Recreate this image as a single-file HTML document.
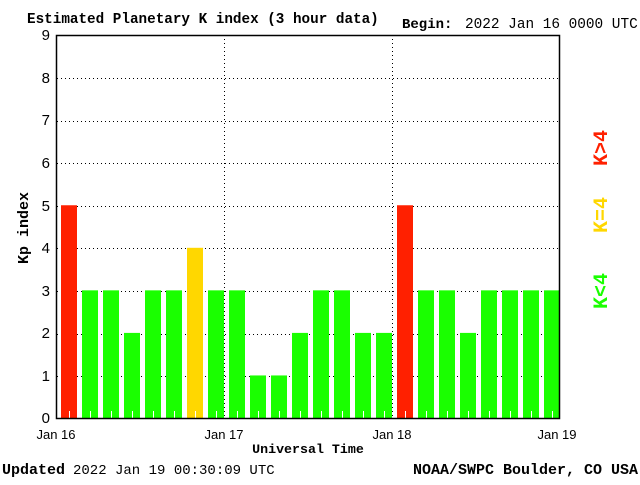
<!DOCTYPE html>
<html><head><style>
body{margin:0;background:#fff;width:640px;height:480px;overflow:hidden}
svg text{font-family:"Liberation Sans",sans-serif}
svg text.s{font-family:"Liberation Mono",monospace;font-weight:bold}
svg text.m{font-family:"Liberation Mono",monospace}
</style></head><body>
<svg width="640" height="480" xmlns="http://www.w3.org/2000/svg">
<text x="27" y="23" class="s" font-size="14.3">Estimated Planetary K index (3 hour data)</text>
<text x="402" y="28" class="s" font-size="14">Begin:</text>
<text x="465" y="28" class="m" font-size="14.4">2022 Jan 16 0000 UTC</text>
<g stroke="#000" stroke-dasharray="1,3" stroke-width="1">
<line x1="57" x2="560" y1="78.5" y2="78.5"/><line x1="57" x2="560" y1="121.5" y2="121.5"/>
<line x1="57" x2="560" y1="163.5" y2="163.5"/><line x1="57" x2="560" y1="206.5" y2="206.5"/>
<line x1="57" x2="560" y1="248.5" y2="248.5"/><line x1="57" x2="560" y1="291.5" y2="291.5"/>
<line x1="57" x2="560" y1="334.5" y2="334.5"/><line x1="57" x2="560" y1="376.5" y2="376.5"/>
<line x1="224.5" x2="224.5" y1="35" y2="418"/><line x1="392.5" x2="392.5" y1="35" y2="418"/>
</g>
<g id="bars"></g>
<rect x="56.5" y="35.5" width="503" height="383" fill="none" stroke="#000" stroke-width="1.5"/>
<g font-size="15" text-anchor="end">
<text x="50" y="423">0</text><text x="50" y="381">1</text><text x="50" y="338">2</text>
<text x="50" y="296">3</text><text x="50" y="253">4</text><text x="50" y="211">5</text>
<text x="50" y="168">6</text><text x="50" y="125">7</text><text x="50" y="83">8</text><text x="50" y="40">9</text>
</g>
<g font-size="13" text-anchor="middle">
<text x="56" y="439">Jan 16</text><text x="224" y="439">Jan 17</text>
<text x="392" y="439">Jan 18</text><text x="557" y="439">Jan 19</text>
</g>
<text x="308" y="453" class="s" font-size="13.3" text-anchor="middle">Universal Time</text>
<text transform="translate(28,228) rotate(-90)" class="s" font-size="15" text-anchor="middle">Kp index</text>
<text transform="translate(607,148) rotate(-90)" class="s" font-size="20" text-anchor="middle" fill="#ff2000">K&gt;4</text>
<text transform="translate(607,215) rotate(-90)" class="s" font-size="20" text-anchor="middle" fill="#ffd700">K=4</text>
<text transform="translate(607,291) rotate(-90)" class="s" font-size="20" text-anchor="middle" fill="#1aff00">K&lt;4</text>
<text x="2" y="474" class="s" font-size="15">Updated</text>
<text x="73" y="474" class="m" font-size="14">2022 Jan 19 00:30:09 UTC</text>
<text x="638" y="474" class="s" font-size="15" text-anchor="end">NOAA/SWPC Boulder, CO USA</text>
</svg>
<script>
var v=[5,3,3,2,3,3,4,3,3,1,1,2,3,3,2,2,5,3,3,2,3,3,3,3],g=document.getElementById('bars'),h='';
v.forEach(function(k,i){var c=k>4?'#ff2000':k==4?'#ffd700':'#1aff00';var x=61+21*i,t=418-42.55*k;
h+='<rect x="'+x+'" y="'+t+'" width="16" height="'+(418-t)+'" fill="'+c+'"/><line x1="'+(x+8.5)+'" x2="'+(x+8.5)+'" y1="411" y2="418" stroke="#fff"/>';});
g.innerHTML=h;
</script>
</body></html>
